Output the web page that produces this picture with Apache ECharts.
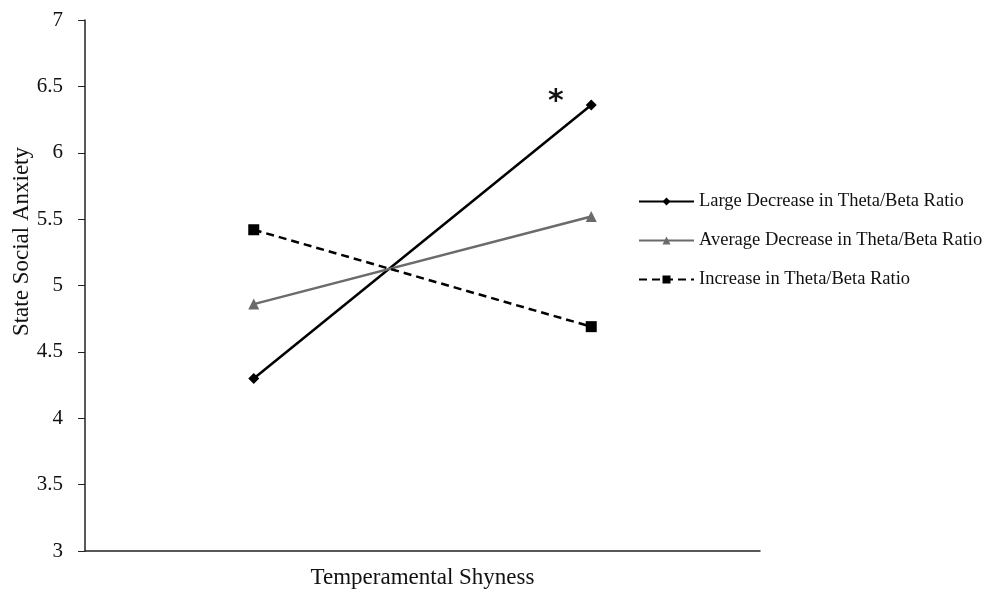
<!DOCTYPE html>
<html lang="en">
<head>
<meta charset="UTF-8">
<title>State Social Anxiety</title>
<script src="https://cdn.jsdelivr.net/npm/echarts@6/dist/echarts.min.js"></script>
<style>
  html, body { margin: 0; padding: 0; background: #fff; }
  #main { width: 988px; height: 595px; }
</style>
</head>
<body>
<div id="main"></div>
<script>
  // x positions of the two points (low / high shyness), axis runs 0..4
  var xPos = [1, 3];
  var largeDecrease = [4.30, 6.36];
  var averageDecrease = [4.86, 5.52];
  var increase = [5.42, 4.69];
  var seriesNames = ['Large Decrease in Theta/Beta Ratio', 'Average Decrease in Theta/Beta Ratio', 'Increase in Theta/Beta Ratio'];
  var yTicks = [3, 3.5, 4, 4.5, 5, 5.5, 6, 6.5, 7];

  function pairs(vals, starIdx) {
    return vals.map(function (v, i) {
      var d = { value: [xPos[i], v] };
      if (i === starIdx) {
        d.label = {
          show: true, formatter: '*', position: 'left', distance: 0,
          offset: [-22, -3], fontSize: 30, fontWeight: 'bold', color: '#111',
          fontFamily: 'DejaVu Sans'
        };
      }
      return d;
    });
  }

  var font = 'Liberation Serif';
  var chart = echarts.init(document.getElementById('main'));
  chart.setOption({
    animation: false,
    backgroundColor: '#fff',
    grid: { left: 85, right: 228, top: 20, bottom: 44, outerBoundsMode: 'none' },
    legend: {
      orient: 'vertical', left: 633, top: 187,
      itemWidth: 55, itemHeight: 10, itemGap: 20,
      textStyle: { fontFamily: font, fontSize: 18.5, color: '#111' },
      data: seriesNames
    },
    graphic: [{
      type: 'text', left: 10, top: 147, rotation: Math.PI / 2,
      style: { text: 'State Social Anxiety', fontFamily: font, fontSize: 23, fill: '#111' }
    }],
    xAxis: {
      type: 'value', min: 0, max: 4,
      name: 'Temperamental Shyness', nameLocation: 'middle', nameGap: 15,
      nameTextStyle: { fontFamily: font, fontSize: 23, color: '#111' },
      axisLine: { show: true, onZero: false, lineStyle: { color: '#222', width: 1.5 } },
      axisTick: { show: false }, axisLabel: { show: false }, splitLine: { show: false }
    },
    yAxis: {
      type: 'value', min: yTicks[0], max: yTicks[yTicks.length - 1], interval: 0.5,
      axisLine: { show: true, lineStyle: { color: '#222', width: 1.5 } },
      axisTick: { show: true, length: 7, lineStyle: { color: '#222' } },
      axisLabel: { fontFamily: font, fontSize: 21, color: '#111', margin: 22 },
      splitLine: { show: false }
    },
    series: [
      {
        name: seriesNames[0], type: 'line', data: pairs(largeDecrease, 1),
        symbol: 'diamond', symbolSize: 11,
        lineStyle: { color: '#000', width: 2.5 }, itemStyle: { color: '#000' }
      },
      {
        name: seriesNames[1], type: 'line', data: pairs(averageDecrease, -1),
        symbol: 'triangle', symbolSize: 11,
        lineStyle: { color: '#6b6b6b', width: 2.5 }, itemStyle: { color: '#6b6b6b' }
      },
      {
        name: seriesNames[2], type: 'line', data: pairs(increase, -1),
        symbol: 'rect', symbolSize: 11,
        lineStyle: { color: '#000', width: 2.5, type: [8, 5] }, itemStyle: { color: '#000' }
      }
    ]
  });
</script>
</body>
</html>
